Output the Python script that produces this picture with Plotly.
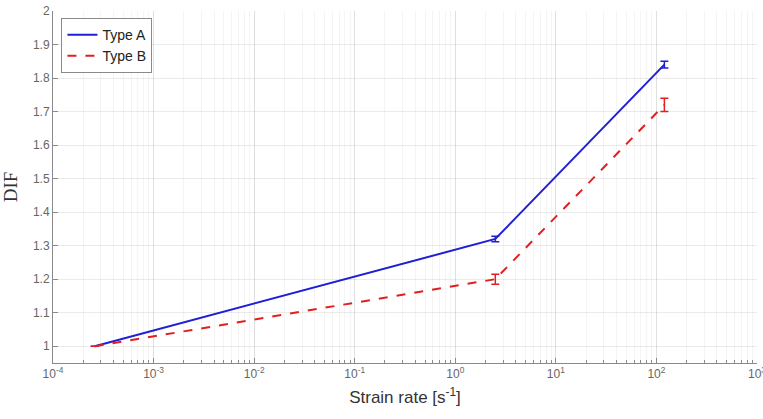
import plotly.graph_objects as go

strain_rate = [2.6e-4, 2.5, 120]
dif_a = [1.0, 1.32, 1.84]
err_a = [0.0, 0.008, 0.01]
dif_b = [1.0, 1.20, 1.72]
err_b = [0.0, 0.015, 0.02]

x_tickvals = [1e-4, 1e-3, 1e-2, 1e-1, 1e0, 1e1, 1e2, 1e3]
x_ticktext = ["10<sup>-4</sup>", "10<sup>-3</sup>", "10<sup>-2</sup>", "10<sup>-1</sup>",
              "10<sup>0</sup>", "10<sup>1</sup>", "10<sup>2</sup>", "10<sup>3</sup>"]

fig = go.Figure()
fig.add_trace(go.Scatter(
    x=strain_rate, y=dif_a, name="Type A", mode="lines",
    line=dict(color="#1f1fd6", width=2),
    error_y=dict(type="data", array=err_a, color="#1f1fd6", thickness=1.5, width=4),
))
fig.add_trace(go.Scatter(
    x=strain_rate, y=dif_b, name="Type B", mode="lines",
    line=dict(color="#e02020", width=2, dash="dash"),
    error_y=dict(type="data", array=err_b, color="#e02020", thickness=1.5, width=4),
))

grid_major = "rgba(0,0,0,0.08)"
grid_minor = "rgba(0,0,0,0.045)"

fig.update_xaxes(
    type="log", range=[-4, 3], automargin=False,
    tickmode="array", tickvals=x_tickvals, ticktext=x_ticktext,
    ticklabeloverflow="allow",
    showline=True, linecolor="#8a8a8a", linewidth=1,
    ticks="inside", ticklen=5, tickcolor="#8a8a8a",
    showgrid=True, gridcolor=grid_major,
    minor=dict(dtick="D1", showgrid=True, gridcolor=grid_minor, ticks="inside",
               ticklen=3, tickcolor="#8a8a8a"),
    tickfont=dict(family="Arial, Liberation Sans, sans-serif", size=12, color="#666666"),
    title=dict(text="Strain rate [s<sup>-1</sup>]",
               font=dict(family="Arial, Liberation Sans, sans-serif", size=17, color="#333333"),
               standoff=10),
    zeroline=False, mirror=False,
)
fig.update_yaxes(
    range=[0.95, 2], dtick=0.1, tick0=1, automargin=False,
    ticklabeloverflow="allow",
    showline=True, linecolor="#8a8a8a", linewidth=1,
    ticks="inside", ticklen=5, tickcolor="#8a8a8a",
    showgrid=True, gridcolor=grid_major,
    tickfont=dict(family="Arial, Liberation Sans, sans-serif", size=12, color="#666666"),
    title=dict(text="DIF",
               font=dict(family="Times New Roman, Liberation Serif, serif", size=19, color="#333333"),
               standoff=12),
    zeroline=False,
)

fig.update_layout(
    width=763, height=419,
    margin=dict(l=53, r=6, t=11, b=56),
    plot_bgcolor="white", paper_bgcolor="white",
    legend=dict(x=0.012, y=0.98, xanchor="left", yanchor="top",
                bgcolor="white", bordercolor="#8a8a8a", borderwidth=1,
                font=dict(family="Arial, Liberation Sans, sans-serif", size=14, color="#222222"),
                tracegroupgap=0, itemwidth=30),
    showlegend=True,
)

fig.write_html("out.html", config={"displayModeBar": False},
               post_script="document.body.style.margin='0';document.body.style.overflow='hidden';")
